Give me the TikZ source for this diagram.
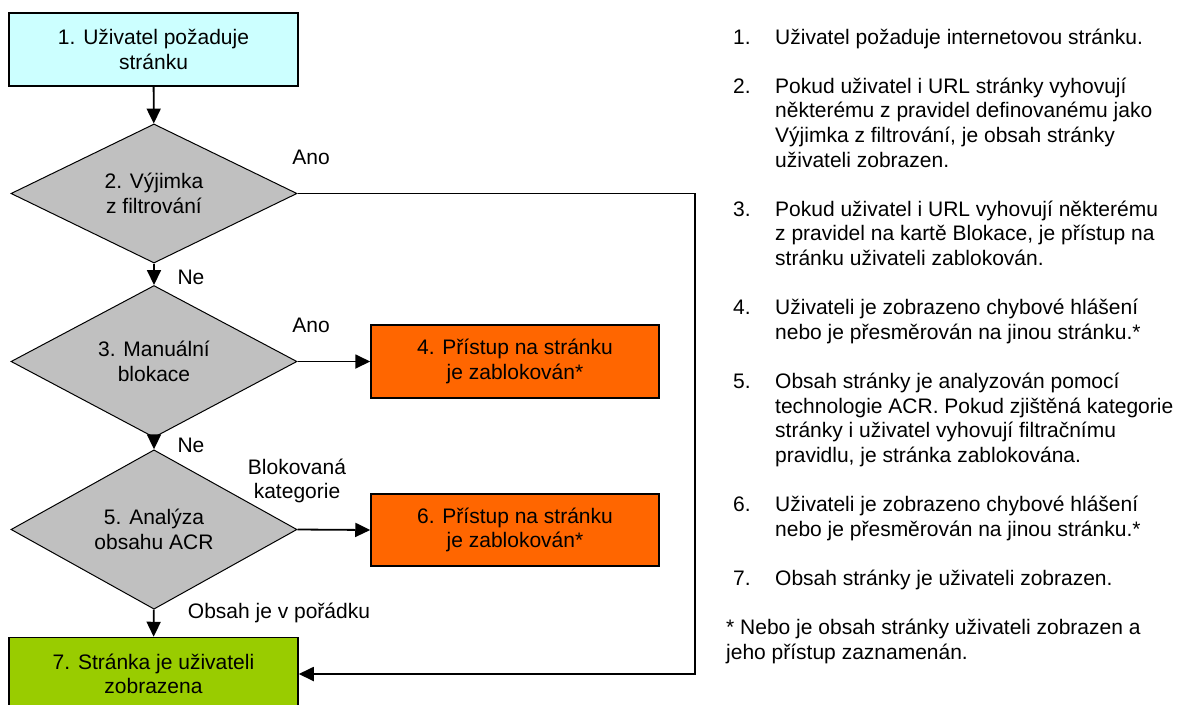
\documentclass[tikz,border=0pt]{standalone}
\usepackage{fontspec}
\setmainfont{Liberation Sans}
\usetikzlibrary{shapes.geometric,arrows.meta}

\definecolor{svetlemodra}{HTML}{CCFFFF}
\definecolor{seda}{HTML}{C0C0C0}
\definecolor{oranzova}{HTML}{FF6600}
\definecolor{zelena}{HTML}{99CC00}

\tikzset{
	pismo/.style={font=\fontsize{21}{24.6}\selectfont},
	krok/.style={pismo, draw, line width=1.5pt, rectangle, minimum width=289pt, minimum height=73pt, align=center, inner sep=0pt},
	rozhodnuti/.style={pismo, draw, line width=1pt, diamond, fill=seda, minimum width=286pt, minimum height=119pt, align=center, inner sep=0pt},
	spoj/.style={line width=1.8pt, -{Triangle[length=15pt,width=14pt]}},
	stitek/.style={pismo, align=center, inner sep=0pt},
	popis/.style={pismo, align=left, inner sep=0pt, anchor=base west},
}

\begin{document}
\begin{tikzpicture}[x=1pt,y=-1pt]

		\useasboundingbox (0,0) rectangle (1182,704);

		% vyvojovy diagram
		\node[krok, fill=svetlemodra] (pozadavek) at (153.5,49.5) {1. Uživatel požaduje\\stránku};
		\node[rozhodnuti] (vyjimka) at (154,193.5) {2. Výjimka\\z filtrování};
		\node[rozhodnuti] (manualni) at (154,361.5) {3. Manuální\\blokace};
		\node[rozhodnuti] (analyza) at (154,529.5) {5. Analýza\\obsahu ACR};
		\node[krok, fill=oranzova, minimum width=288pt] (blok4) at (515,361.5) {4. Přístup na stránku\\je zablokován*};
		\node[krok, fill=oranzova, minimum width=288pt, minimum height=72pt] (blok6) at (515,530) {6. Přístup na stránku\\je zablokován*};
		\node[krok, fill=zelena] (zobrazena) at (153.5,674) {7. Stránka je uživateli\\zobrazena};

		\coordinate (roh) at (695,193.5);

		\draw[spoj] (pozadavek) -- (vyjimka);
		\draw[spoj] (vyjimka) -- (manualni);
		\draw[spoj] (manualni) -- (analyza);
		\draw[spoj] (analyza) -- (zobrazena);
		\draw[spoj] (manualni.east) -- (blok4.west);
		\draw[spoj] (analyza.east) -- (blok6.west);
		\draw[spoj] (vyjimka.east) -- (roh) |- (zobrazena.east);

		\node[stitek] (ano1) at (311,157) {Ano};
		\node[stitek] (ne1) at (191,277) {Ne};
		\node[stitek] (ano2) at (311,325) {Ano};
		\node[stitek] (ne2) at (191,445) {Ne};
		\node[stitek] (kategorie) at (297,481) {Blokovaná\\kategorie};
		\node[stitek] (poradek) at (279,613) {Obsah je v pořádku};

		% vysvetlivky (prvni a posledni radek kazdeho bodu)
		\foreach \cislo/\radek/\posledni/\obsah in {
				1/0/0/{Uživatel požaduje internetovou stránku.},
				2/2/5/{Pokud uživatel i URL stránky vyhovují\\některému z pravidel definovanému jako\\Výjimka z filtrování, je obsah stránky\\uživateli zobrazen.},
				3/7/9/{Pokud uživatel i URL vyhovují některému\\z pravidel na kartě Blokace, je přístup na\\stránku uživateli zablokován.},
				4/11/12/{Uživateli je zobrazeno chybové hlášení\\nebo je přesměrován na jinou stránku.*},
				5/14/17/{Obsah stránky je analyzován pomocí\\technologie ACR. Pokud zjištěná kategorie\\stránky i uživatel vyhovují filtračnímu\\pravidlu, je stránka zablokována.},
				6/19/20/{Uživateli je zobrazeno chybové hlášení\\nebo je přesměrován na jinou stránku.*},
				7/22/22/{Obsah stránky je uživateli zobrazen.}}{
				\node[popis] (bod\cislo) at (733,44+24.6*\radek) {\cislo.};
				\node[popis] (text\cislo) at (775,44+24.6*\posledni) {\obsah};
			}
		\node[popis] (poznamka) at (726,44+24.6*25) {* Nebo je obsah stránky uživateli zobrazen a\\jeho přístup zaznamenán.};

\end{tikzpicture}
\end{document}
